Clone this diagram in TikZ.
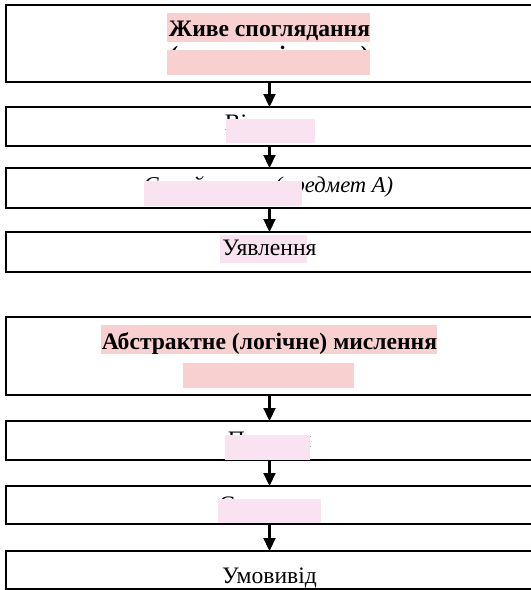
\documentclass[tikz,border=0pt]{standalone}
\usepackage{fontspec}
\setmainfont{Liberation Serif}
\usetikzlibrary{arrows.meta}
\definecolor{hlred}{RGB}{248,208,208}
\definecolor{hlpink}{RGB}{249,227,240}
\newcommand{\fsz}{\fontsize{23.6}{28}\selectfont}
\begin{document}
\begin{tikzpicture}[x=1pt,y=-1pt,
  box/.style={draw=black,line width=1.8pt,minimum width=527pt,inner sep=0pt,outer sep=0pt},
  txt/.style={anchor=base,inner sep=0pt,font=\fsz},
  arr/.style={line width=2.2pt,-{Triangle[length=13pt,width=12pt]}},
  cover/.style={fill=hlpink,draw=none}]
\useasboundingbox (0,0) rectangle (531,590);
\clip (0,0) rectangle (531,590);
% boxes
\node[box,minimum height=77pt] (b1) at (269.5,43.5) {};
\node[box,minimum height=39pt] (b2) at (269.5,126.5) {};
\node[box,minimum height=40pt] (b3) at (269.5,188) {};
\node[box,minimum height=40pt] (b4) at (269.5,252) {};
\node[box,minimum height=78pt] (b5) at (269.5,356) {};
\node[box,minimum height=39pt] (b6) at (269.5,440.5) {};
\node[box,minimum height=38pt] (b7) at (269.5,505) {};
\node[box,minimum height=38pt] (b8) at (269.5,570) {};
% arrows
\draw[arr] (b1.south) -- (b2.north);
\draw[arr] (b2.south) -- (b3.north);
\draw[arr] (b3.south) -- (b4.north);
\draw[arr] (b5.south) -- (b6.north);
\draw[arr] (b6.south) -- (b7.north);
\draw[arr] (b7.south) -- (b8.north);
% highlights behind text
\fill[hlred] (167,13) rectangle (370,42);
\fill[hlpink] (220,235) rectangle (307,263);
\fill[hlred] (101,325) rectangle (437,354);
% texts
\node[txt,font=\fsz\bfseries] (t1) at (269.5,36) {Живе споглядання};
\node[txt,font=\fsz\bfseries] (t1b) at (269.5,62) {(чуттєве пізнання)};
\node[txt] (t2) at (269.5,130) {Відчуття};
\node[txt,font=\fontsize{22.6}{27}\selectfont\itshape] (t3) at (268.5,192) {Сприйняття (предмет А)};
\node[txt] (t4) at (269.5,255) {Уявлення};
\node[txt,font=\fsz\bfseries] (t5) at (269.5,349) {Абстрактне (логічне) мислення};
\node[txt] (t6) at (269.5,447) {Поняття};
\node[txt] (t7) at (269.5,512) {Судження};
\node[txt] (t8) at (269.5,583) {Умовивід};
% covers
\fill[hlred] (167,50) rectangle (370,75);
\fill[cover] (226,119) rectangle (315,143);
\fill[cover] (144,181) rectangle (302,206);
\fill[hlred] (183,363) rectangle (354,388);
\fill[cover] (225,435) rectangle (310,460);
\fill[cover] (218,499) rectangle (321,523);
\end{tikzpicture}
\end{document}
